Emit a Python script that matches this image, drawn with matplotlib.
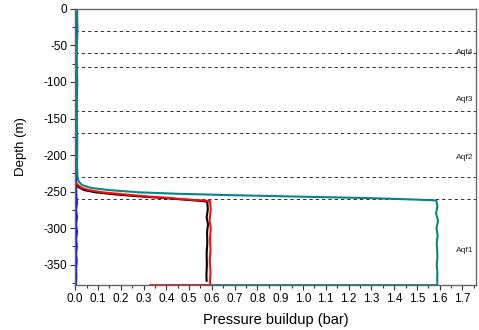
import matplotlib.pyplot as plt
from matplotlib.ticker import MultipleLocator

plt.rcParams['font.family'] = ['Liberation Sans', 'DejaVu Sans']
plt.rcParams['axes.unicode_minus'] = False

# pressure profiles: (depth m, pressure buildup bar)
blue_depth = [0, -20, -40, -60, -80, -100, -120, -140, -160, -180, -200, -220, -240,
              -255, -265, -275, -285, -295, -305, -315, -325, -335, -345, -355, -365, -378]
blue_p = [0.004, 0.005, 0.003, 0.006, 0.004, 0.005, 0.003, 0.005, 0.004, 0.005, 0.003, 0.005, 0.004,
          0.005, 0.008, 0.004, 0.008, 0.004, 0.008, 0.004, 0.007, 0.004, 0.007, 0.004, 0.005, 0.004]

teal_depth = [0, -30, -60, -100, -140, -180, -215, -230, -236, -241, -245, -248, -251,
              -253, -255, -257, -259, -261, -262, -270, -280, -290, -300, -310, -320,
              -330, -340, -350, -360, -370, -377, -378, -378]
teal_p = [0.008, 0.010, 0.006, 0.009, 0.007, 0.009, 0.008, 0.010, 0.015, 0.030, 0.07, 0.15, 0.28,
          0.45, 0.70, 1.00, 1.30, 1.50, 1.585, 1.590, 1.584, 1.593, 1.586, 1.591, 1.587,
          1.589, 1.590, 1.587, 1.590, 1.589, 1.590, 1.59, 0.45]

red_depth = [-238, -242, -245, -248, -251, -254, -257, -259, -261, -262.5, -263,
             -275, -290, -300, -315, -330, -345, -360, -372, -378, -378]
red_p = [0.004, 0.015, 0.03, 0.06, 0.12, 0.22, 0.33, 0.42, 0.50, 0.57, 0.592,
         0.595, 0.590, 0.595, 0.592, 0.594, 0.591, 0.594, 0.592, 0.593, 0.33]

black_depth = [-240, -244, -248, -251, -254, -257, -259, -261, -263, -264,
               -275, -285, -295, -305, -320, -335, -350, -365, -372]
black_p = [0.004, 0.015, 0.04, 0.09, 0.18, 0.30, 0.40, 0.48, 0.56, 0.58,
           0.582, 0.577, 0.583, 0.579, 0.580, 0.577, 0.578, 0.576, 0.577]

# layer boundaries and aquifer labels
boundaries = [-30, -60, -80, -140, -170, -230, -260]
aquifer_names = ['Aqf4', 'Aqf3', 'Aqf2', 'Aqf1']
aquifer_depth = [-59, -124, -204, -330]

fig = plt.figure(figsize=(4.79, 3.30), dpi=100)
ax = fig.add_axes([0.157, 0.136, 0.837, 0.837])

for d in boundaries:
    ax.axhline(d, color='#333333', lw=0.7, ls=(0, (3.5, 3)))

ax.plot(blue_p, blue_depth, color='#0a14ff', lw=1.5)
ax.plot(teal_p, teal_depth, color='#078585', lw=1.5)
ax.plot(black_p, black_depth, color='black', lw=1.5)
ax.plot(red_p, red_depth, color='#ff0a0a', lw=1.5)

for name, d in zip(aquifer_names, aquifer_depth):
    ax.text(1.748, d, name, fontsize=6, ha='right', va='center', color='#222222')

ax.set_xlim(0, 1.76)
ax.set_ylim(-378, 0)
ax.xaxis.set_major_locator(MultipleLocator(0.1))
ax.xaxis.set_minor_locator(MultipleLocator(0.05))
ax.yaxis.set_major_locator(MultipleLocator(50))
ax.yaxis.set_minor_locator(MultipleLocator(25))
ax.xaxis.set_major_formatter(plt.FuncFormatter(lambda v, p: f'{v:.1f}'))

ax.tick_params(which='major', direction='out', length=3.5, width=0.8, labelsize=8.5, pad=2, color='#333333')
ax.tick_params(which='minor', direction='out', length=2, width=0.8, color='#333333')
for s in ax.spines.values():
    s.set_color('#666666')
    s.set_linewidth(1.0)

ax.set_xlabel('Pressure buildup (bar)', fontsize=10.5, labelpad=6)
ax.set_ylabel('Depth (m)', fontsize=9.5, labelpad=12)

fig.savefig('out.png', dpi=100)
